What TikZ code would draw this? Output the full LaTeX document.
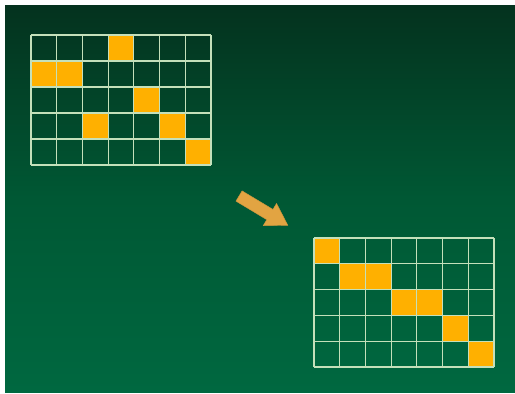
\documentclass[tikz,border=0pt]{standalone}
\begin{document}
\begin{tikzpicture}[x=1pt,y=-1pt,
  gridline/.style={draw=gridcol,line width=1.2pt},
  cell/.style={fill=cellcol},
  bigarrow/.style={fill=arrowcol,draw=arrowcol!90!black,line width=0.4pt,line join=round}]
\definecolor{topgreen}{RGB}{4,50,30}
\definecolor{midgreen}{RGB}{0,88,52}
\definecolor{botgreen}{RGB}{0,104,64}
\definecolor{gridcol}{RGB}{196,224,186}
\definecolor{cellcol}{RGB}{255,176,0}
\definecolor{arrowcol}{RGB}{226,164,66}
\useasboundingbox (0,0) rectangle (515,394);
\fill[white] (0,0) rectangle (515,394);
\shade[top color=topgreen,bottom color=botgreen,middle color=midgreen] (5,5) rectangle (515,392);
% first grid
\begin{scope}[shift={(31,35)}]
  \foreach \r/\c in {0/3,1/0,1/1,2/4,3/2,3/5,4/6}
    \fill[cell] (\c*180/7,\r*26) rectangle ++(180/7,26);
  \foreach \i in {0,...,7} \draw[gridline] (\i*180/7,0) -- (\i*180/7,130);
  \foreach \j in {0,...,5} \draw[gridline] (0,\j*26) -- (180,\j*26);
\end{scope}
% second grid
\begin{scope}[shift={(314,238)}]
  \foreach \r/\c in {0/0,1/1,1/2,2/3,2/4,3/5,4/6}
    \fill[cell] (\c*180/7,\r*25.8) rectangle ++(180/7,25.8);
  \foreach \i in {0,...,7} \draw[gridline] (\i*180/7,0) -- (\i*180/7,129);
  \foreach \j in {0,...,5} \draw[gridline] (0,\j*25.8) -- (180,\j*25.8);
\end{scope}
% arrow
\begin{scope}[shift={(239,196)},rotate=-31]
  \fill[bigarrow] (0,-6) -- (36,-6) -- (36,-13) -- (57,0) -- (36,13) -- (36,6) -- (0,6) -- cycle;
\end{scope}
\end{tikzpicture}
\end{document}
